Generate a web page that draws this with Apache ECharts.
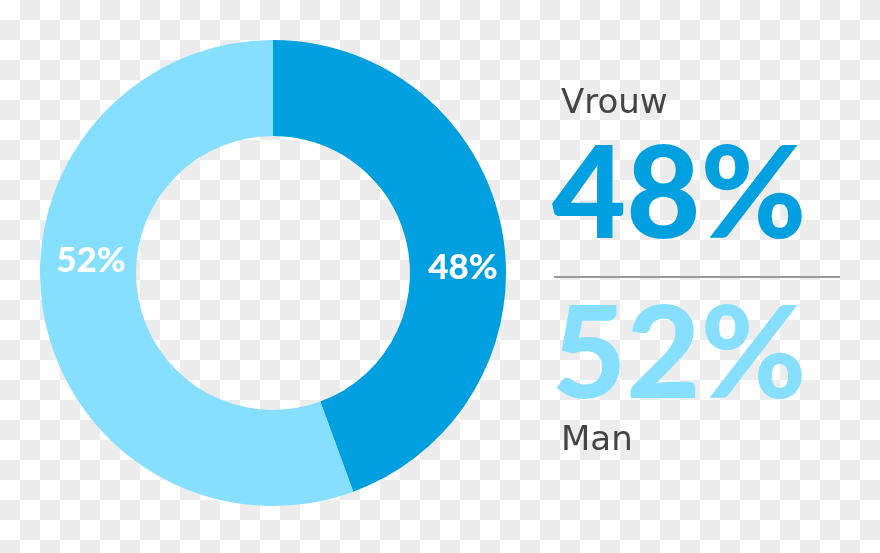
<!DOCTYPE html>
<html>
<head>
<meta charset="utf-8">
<script src="https://cdn.jsdelivr.net/npm/echarts@6/dist/echarts.min.js"></script>
<style>
  html, body { margin: 0; padding: 0; }
  #chart {
    width: 880px; height: 553px;
    background-color: #ffffff;
    background-image: conic-gradient(#ececec 25%, #ffffff 0 50%, #ececec 0 75%, #ffffff 0);
    background-size: 40px 40px;
  }
</style>
</head>
<body>
<div id="chart"></div>
<script>
// Categories and values
const categories = ['Vrouw', 'Man'];
const percentLabels = ['48%', '52%'];          // printed shares
const arcShares = [44.4, 55.6];                // arc sizes as drawn in the picture
const sliceColors = ['#009FDF', '#87DFFF'];

const chart = echarts.init(document.getElementById('chart'), null, { renderer: 'canvas' });

const bigFont = 'Lato';
const thinFont = 'DejaVu Sans';

function txt(x, y, text, fill, size, weight, family, align) {
  return { type: 'text', z: 100, x: x, y: y, style: {
    text: text, fill: fill, fontSize: size, fontWeight: weight, fontFamily: family,
    align: align || 'left', verticalAlign: 'middle' } };
}

chart.setOption({
  backgroundColor: 'transparent',
  animation: false,
  series: [{
    type: 'pie',
    center: [273, 273],
    radius: [137, 233],
    startAngle: 90,
    clockwise: true,
    silent: true,
    label: { show: false },
    labelLine: { show: false },
    itemStyle: { borderWidth: 0 },
    data: categories.map((c, i) => ({
      name: c,
      value: arcShares[i],
      itemStyle: { color: sliceColors[i] }
    }))
  }],
  graphic: [
    // ring labels
    txt(463, 268, percentLabels[0], '#ffffff', 35, 900, bigFont, 'center'),
    txt(91, 261, percentLabels[1], '#ffffff', 35, 900, bigFont, 'center'),
    // right side
    txt(561, 104, categories[0], '#444444', 34, 'normal', thinFont),
    txt(552, 197, percentLabels[0], sliceColors[0], 128, 900, bigFont),
    { type: 'line', z: 100, shape: { x1: 554, y1: 277, x2: 840, y2: 277 },
      style: { stroke: '#9a9a9a', lineWidth: 2 } },
    txt(552, 357, percentLabels[1], sliceColors[1], 128, 900, bigFont),
    txt(561, 441, categories[1], '#444444', 34, 'normal', thinFont)
  ]
});
</script>
</body>
</html>
